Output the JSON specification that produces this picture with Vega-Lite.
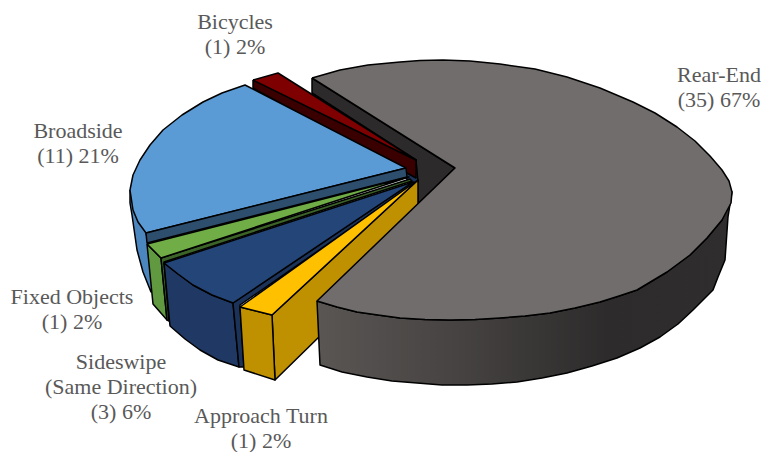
{
"$schema":"https://vega.github.io/schema/vega-lite/v6.json",
"width":764,"height":452,"autosize":{"type":"none"},"padding":0,
"background":"white","view":{"stroke":null},
"datasets":{
"faces":[
{"face":"rear-inner","i":1,"x":312,"y":78},{"face":"rear-inner","i":2,"x":455,"y":168},{"face":"rear-inner","i":3,"x":418,"y":204},{"face":"rear-inner","i":4,"x":416,"y":160},{"face":"rear-inner","i":5,"x":312,"y":93},{"face":"rear-inner","i":6,"x":312,"y":78},
{"face":"hub","i":1,"x":406,"y":168},{"face":"hub","i":2,"x":416,"y":160},{"face":"hub","i":3,"x":418,"y":182},{"face":"hub","i":4,"x":412,"y":185},{"face":"hub","i":5,"x":406,"y":178},{"face":"hub","i":6,"x":406,"y":168},
{"face":"bike-wall","i":1,"x":253,"y":80},{"face":"bike-wall","i":2,"x":416,"y":160},{"face":"bike-wall","i":3,"x":416,"y":178},{"face":"bike-wall","i":4,"x":253,"y":88},{"face":"bike-wall","i":5,"x":253,"y":80},
{"face":"bike-top","i":1,"x":253,"y":80},{"face":"bike-top","i":2,"x":278,"y":73},{"face":"bike-top","i":3,"x":416,"y":160},{"face":"bike-top","i":4,"x":253,"y":80},
{"face":"broad-wall","i":1,"x":130,"y":190},{"face":"broad-wall","i":2,"x":130,"y":203},{"face":"broad-wall","i":3,"x":132,"y":215},{"face":"broad-wall","i":4,"x":137,"y":250},{"face":"broad-wall","i":5,"x":143,"y":272},{"face":"broad-wall","i":6,"x":151,"y":292},{"face":"broad-wall","i":7,"x":155,"y":270},{"face":"broad-wall","i":8,"x":146,"y":233},{"face":"broad-wall","i":9,"x":130,"y":190},
{"face":"broad-top","i":1,"x":406,"y":168},{"face":"broad-top","i":2,"x":245,"y":85},{"face":"broad-top","i":3,"x":222,"y":93},{"face":"broad-top","i":4,"x":203,"y":102},{"face":"broad-top","i":5,"x":182,"y":115},{"face":"broad-top","i":6,"x":163,"y":130},{"face":"broad-top","i":7,"x":150,"y":145},{"face":"broad-top","i":8,"x":140,"y":160},{"face":"broad-top","i":9,"x":133,"y":175},{"face":"broad-top","i":10,"x":130,"y":190},{"face":"broad-top","i":11,"x":133,"y":210},{"face":"broad-top","i":12,"x":138,"y":222},{"face":"broad-top","i":13,"x":146,"y":233},{"face":"broad-top","i":14,"x":406,"y":168},
{"face":"broad-cut","i":1,"x":146,"y":233},{"face":"broad-cut","i":2,"x":406,"y":168},{"face":"broad-cut","i":3,"x":407,"y":177},{"face":"broad-cut","i":4,"x":147,"y":243},{"face":"broad-cut","i":5,"x":146,"y":233},
{"face":"fixed-wall","i":1,"x":147,"y":244},{"face":"fixed-wall","i":2,"x":161,"y":258},{"face":"fixed-wall","i":3,"x":167,"y":320},{"face":"fixed-wall","i":4,"x":153,"y":304},{"face":"fixed-wall","i":5,"x":147,"y":244},
{"face":"fixed-cut","i":1,"x":161,"y":258},{"face":"fixed-cut","i":2,"x":410,"y":179},{"face":"fixed-cut","i":3,"x":412,"y":181},{"face":"fixed-cut","i":4,"x":164,"y":262},{"face":"fixed-cut","i":5,"x":169,"y":321},{"face":"fixed-cut","i":6,"x":167,"y":320},{"face":"fixed-cut","i":7,"x":161,"y":258},
{"face":"fixed-top","i":1,"x":147,"y":244},{"face":"fixed-top","i":2,"x":409,"y":177},{"face":"fixed-top","i":3,"x":161,"y":258},{"face":"fixed-top","i":4,"x":147,"y":244},
{"face":"side-wall","i":1,"x":164,"y":263},{"face":"side-wall","i":2,"x":178,"y":274},{"face":"side-wall","i":3,"x":193,"y":285},{"face":"side-wall","i":4,"x":212,"y":295},{"face":"side-wall","i":5,"x":233,"y":303},{"face":"side-wall","i":6,"x":239,"y":367},{"face":"side-wall","i":7,"x":218,"y":360},{"face":"side-wall","i":8,"x":200,"y":350},{"face":"side-wall","i":9,"x":185,"y":339},{"face":"side-wall","i":10,"x":170,"y":326},{"face":"side-wall","i":11,"x":164,"y":263},
{"face":"side-cut","i":1,"x":233,"y":303},{"face":"side-cut","i":2,"x":413,"y":182},{"face":"side-cut","i":3,"x":416,"y":183},{"face":"side-cut","i":4,"x":240,"y":305},{"face":"side-cut","i":5,"x":244,"y":367},{"face":"side-cut","i":6,"x":239,"y":367},{"face":"side-cut","i":7,"x":233,"y":303},
{"face":"side-top","i":1,"x":413,"y":182},{"face":"side-top","i":2,"x":164,"y":263},{"face":"side-top","i":3,"x":178,"y":274},{"face":"side-top","i":4,"x":193,"y":285},{"face":"side-top","i":5,"x":212,"y":295},{"face":"side-top","i":6,"x":233,"y":303},{"face":"side-top","i":7,"x":413,"y":182},
{"face":"turn-cut","i":1,"x":272,"y":315},{"face":"turn-cut","i":2,"x":418,"y":180},{"face":"turn-cut","i":3,"x":418,"y":240},{"face":"turn-cut","i":4,"x":275,"y":380},{"face":"turn-cut","i":5,"x":272,"y":315},
{"face":"turn-wall","i":1,"x":240,"y":307},{"face":"turn-wall","i":2,"x":272,"y":315},{"face":"turn-wall","i":3,"x":275,"y":380},{"face":"turn-wall","i":4,"x":244,"y":370},{"face":"turn-wall","i":5,"x":240,"y":307},
{"face":"turn-top","i":1,"x":240,"y":307},{"face":"turn-top","i":2,"x":418,"y":180},{"face":"turn-top","i":3,"x":272,"y":315},{"face":"turn-top","i":4,"x":240,"y":307}
],
"rearWall":[
{"i":1,"x":317,"y":301},{"i":2,"x":337,"y":307},{"i":3,"x":357,"y":312},{"i":4,"x":378,"y":315},{"i":5,"x":400,"y":318},{"i":6,"x":425,"y":319.5},{"i":7,"x":450,"y":320},{"i":8,"x":475,"y":319.5},{"i":9,"x":500,"y":318},{"i":10,"x":525,"y":316},{"i":11,"x":550,"y":313},{"i":12,"x":575,"y":308},{"i":13,"x":600,"y":302},{"i":14,"x":619,"y":296},{"i":15,"x":637,"y":290},{"i":16,"x":652,"y":281},{"i":17,"x":667,"y":272},{"i":18,"x":690,"y":255},{"i":19,"x":707,"y":238},{"i":20,"x":722,"y":220},{"i":21,"x":732,"y":192},{"i":22,"x":728,"y":217},{"i":23,"x":725,"y":260},{"i":24,"x":718,"y":277},{"i":25,"x":713,"y":290},{"i":26,"x":693,"y":310},{"i":27,"x":678,"y":324},{"i":28,"x":660,"y":337},{"i":29,"x":640,"y":348},{"i":30,"x":617,"y":358},{"i":31,"x":592,"y":366},{"i":32,"x":567,"y":373},{"i":33,"x":542,"y":378},{"i":34,"x":517,"y":382},{"i":35,"x":492,"y":384},{"i":36,"x":467,"y":385},{"i":37,"x":442,"y":385},{"i":38,"x":417,"y":383},{"i":39,"x":392,"y":381},{"i":40,"x":367,"y":377},{"i":41,"x":342,"y":372},{"i":42,"x":320,"y":365},{"i":43,"x":317,"y":301}
],
"rearTop":[
{"i":1,"x":312,"y":78},{"i":2,"x":340,"y":70},{"i":3,"x":368,"y":65},{"i":4,"x":400,"y":62},{"i":5,"x":420,"y":60.5},{"i":6,"x":443,"y":60},{"i":7,"x":470,"y":61},{"i":8,"x":500,"y":64},{"i":9,"x":535,"y":69},{"i":10,"x":567,"y":77},{"i":11,"x":600,"y":88},{"i":12,"x":633,"y":102},{"i":13,"x":655,"y":113},{"i":14,"x":677,"y":127},{"i":15,"x":695,"y":141},{"i":16,"x":710,"y":156},{"i":17,"x":722,"y":170},{"i":18,"x":729,"y":181},{"i":19,"x":732,"y":192},{"i":20,"x":731,"y":203},{"i":21,"x":722,"y":220},{"i":22,"x":707,"y":238},{"i":23,"x":690,"y":255},{"i":24,"x":667,"y":272},{"i":25,"x":652,"y":281},{"i":26,"x":637,"y":290},{"i":27,"x":619,"y":296},{"i":28,"x":600,"y":302},{"i":29,"x":575,"y":308},{"i":30,"x":550,"y":313},{"i":31,"x":525,"y":316},{"i":32,"x":500,"y":318},{"i":33,"x":475,"y":319.5},{"i":34,"x":450,"y":320},{"i":35,"x":425,"y":319.5},{"i":36,"x":400,"y":318},{"i":37,"x":378,"y":315},{"i":38,"x":357,"y":312},{"i":39,"x":337,"y":307},{"i":40,"x":317,"y":301},{"i":41,"x":455,"y":168},{"i":42,"x":312,"y":78}
],
"labels":[
{"cause":"Bicycles","count":1,"share":2,"label":"Bicycles\n(1) 2%","x":235,"y":22},
{"cause":"Rear-End","count":35,"share":67,"label":"Rear-End\n(35) 67%","x":719,"y":75},
{"cause":"Broadside","count":11,"share":21,"label":"Broadside\n(11) 21%","x":78,"y":131},
{"cause":"Fixed Objects","count":1,"share":2,"label":"Fixed Objects\n(1) 2%","x":72,"y":297},
{"cause":"Sideswipe (Same Direction)","count":3,"share":6,"label":"Sideswipe\n(Same Direction)\n(3) 6%","x":121,"y":362},
{"cause":"Approach Turn","count":1,"share":2,"label":"Approach Turn\n(1) 2%","x":261,"y":416}
]
},
"encoding":{
"x":{"field":"x","type":"quantitative","scale":{"domain":[0,764],"nice":false,"zero":false},"axis":null},
"y":{"field":"y","type":"quantitative","scale":{"domain":[452,0],"nice":false,"zero":false},"axis":null}
},
"layer":[
{"data":{"name":"faces"},
 "mark":{"type":"line","stroke":"#000000","strokeWidth":1.5,"strokeJoin":"round","clip":false},
 "encoding":{
  "order":{"field":"i","type":"quantitative"},
  "fill":{"field":"face","type":"nominal","legend":null,"scale":{
   "domain":["rear-inner","hub","bike-wall","bike-top","broad-wall","broad-top","broad-cut","fixed-wall","fixed-cut","fixed-top","side-wall","side-cut","side-top","turn-cut","turn-wall","turn-top"],
   "range":["#2d2a2b","#1b3358","#3a0000","#7f0000","#4c86bf","#5b9bd5","#2e4e6e","#60993f","#3c6428","#70ad47","#1f3864","#1b3358","#234578","#bf9000","#bf9000","#ffc000"]}}
 }},
{"data":{"name":"rearWall"},
 "mark":{"type":"line","stroke":"#000000","strokeWidth":1.5,"strokeJoin":"round",
  "fill":{"gradient":"linear","x1":0,"y1":0,"x2":1,"y2":0,"stops":[{"offset":0,"color":"#5a5654"},{"offset":0.35,"color":"#454241"},{"offset":0.7,"color":"#2d2b2b"},{"offset":1,"color":"#2f2d2d"}]}},
 "encoding":{"order":{"field":"i","type":"quantitative"}}},
{"data":{"name":"rearTop"},
 "mark":{"type":"line","stroke":"#000000","strokeWidth":1.5,"strokeJoin":"round","fill":"#716d6c"},
 "encoding":{"order":{"field":"i","type":"quantitative"}}},
{"data":{"name":"labels"},
 "mark":{"type":"text","font":"Liberation Serif","fontSize":22,"lineBreak":"\n","lineHeight":25,"align":"center","baseline":"middle","color":"#595959"},
 "encoding":{"text":{"field":"label","type":"nominal"}}}
]
}
